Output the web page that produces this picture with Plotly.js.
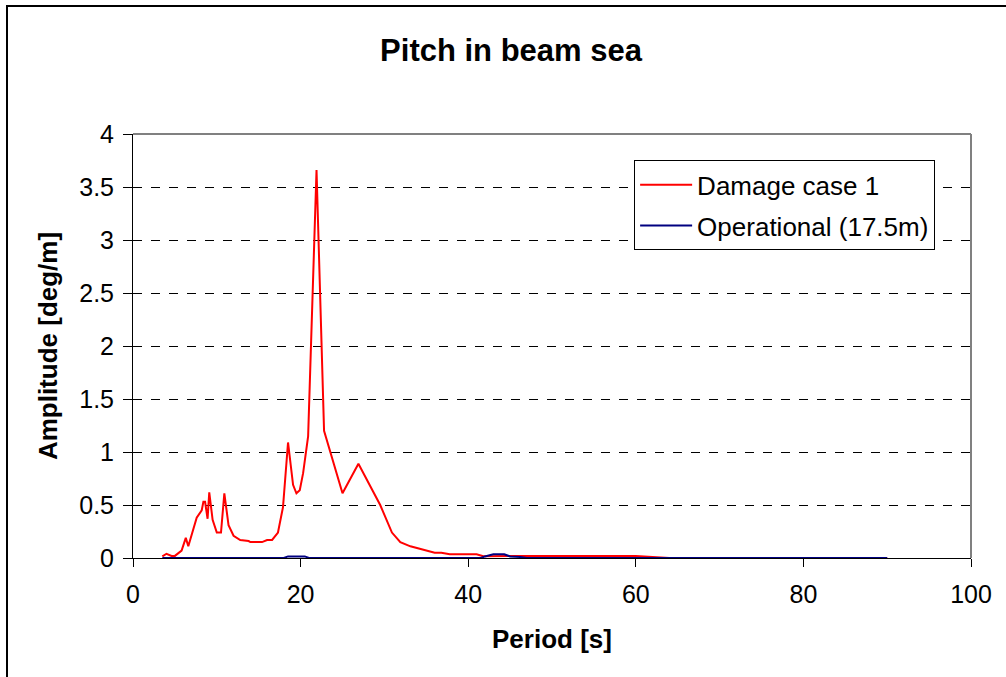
<!DOCTYPE html>
<html>
<head>
<meta charset="utf-8">
<script src="https://cdn.plot.ly/plotly-3.0.1.min.js"></script>
<style>
  html, body { margin: 0; padding: 0; background: #fff; overflow: hidden; }
  #wrap { position: relative; width: 1006px; height: 677px; }
  #chart { width: 1006px; height: 677px; }
  #frame { position: absolute; left: 6px; top: 5px; width: 1100px; height: 800px;
           border: 2px solid #000; pointer-events: none; }
</style>
</head>
<body>
<div id="wrap">
  <div id="chart"></div>
  <div id="frame"></div>
</div>
<script>
// Damage case 1
const damagePeriod = [3.5, 4.0, 4.6, 5.0, 5.8, 6.3, 6.6, 7.6, 8.2, 8.4, 8.6, 8.9, 9.1, 9.5, 10.0, 10.5, 10.9, 11.4, 12.0, 12.8, 13.8, 14.0, 15.4, 16.0, 16.6, 17.3, 17.9, 18.5, 19.1, 19.5, 19.9, 20.3, 20.9, 21.9, 22.8, 25.0, 26.9, 29.5, 30.9, 31.9, 33.1, 35.0, 36.0, 36.8, 37.8, 41.0, 41.8, 46.0, 60.0, 64.0, 90.0];
const damageAmp = [0.015, 0.04, 0.02, 0.02, 0.07, 0.19, 0.11, 0.38, 0.45, 0.53, 0.53, 0.37, 0.62, 0.36, 0.24, 0.24, 0.61, 0.31, 0.21, 0.17, 0.16, 0.15, 0.15, 0.17, 0.17, 0.24, 0.48, 1.09, 0.69, 0.61, 0.64, 0.80, 1.15, 3.66, 1.20, 0.61, 0.89, 0.50, 0.24, 0.15, 0.11, 0.07, 0.05, 0.05, 0.035, 0.035, 0.016, 0.02, 0.02, 0.0, 0.0];

// Operational (17.5m)
const operPeriod = [3.5, 18.0, 18.5, 20.5, 21.0, 41.5, 42.0, 43.0, 44.3, 45.0, 46.2, 47.0, 90.0];
const operAmp = [0, 0, 0.015, 0.015, 0, 0, 0.015, 0.035, 0.035, 0.015, 0.01, 0, 0];

const xTicks = [0, 20, 40, 60, 80, 100];
const yTicks = [0, 0.5, 1, 1.5, 2, 2.5, 3, 3.5, 4];
const yTickText = ["0", "0.5", "1", "1.5", "2", "2.5", "3", "3.5", "4"];

const FONT = "Liberation Sans, Arial, sans-serif";

const traces = [
  { x: damagePeriod, y: damageAmp, type: "scatter", mode: "lines", name: "Damage case 1",
    legendgroup: "a", line: { color: "#FF0000", width: 2 } },
  { x: operPeriod, y: operAmp, type: "scatter", mode: "lines", name: "Operational (17.5m)",
    legendgroup: "b", line: { color: "#000080", width: 2 } }
];

const layout = {
  width: 1006, height: 677,
  paper_bgcolor: "#fff", plot_bgcolor: "#fff",
  margin: { l: 133, r: 35, t: 134, b: 119, pad: 0 },
  font: { family: FONT, size: 25, color: "#000" },
  title: { text: "<b>Pitch in beam sea</b>", font: { family: FONT, size: 31, color: "#000" },
           x: 0.508, xref: "container", xanchor: "center", y: 0.926, yref: "container", yanchor: "middle" },
  showlegend: true,
  legend: { x: 0.598, y: 0.938, xanchor: "left", yanchor: "top", bgcolor: "#fff",
            bordercolor: "#000", borderwidth: 1, itemwidth: 52,
            traceorder: "grouped", tracegroupgap: 4,
            font: { family: FONT, size: 26, color: "#000" } },
  xaxis: {
    range: [0, 100], tickvals: xTicks, ticktext: xTicks.map(String),
    showgrid: false, zeroline: false, showline: true, linecolor: "#000", linewidth: 1,
    ticks: "outside", ticklen: 8, tickcolor: "#000", tickwidth: 1, ticklabelstandoff: 6,
    tickfont: { family: FONT, size: 25, color: "#000" },
    title: { text: "<b>Period [s]</b>", font: { family: FONT, size: 26, color: "#000" }, standoff: 22 },
    automargin: false
  },
  yaxis: {
    range: [0, 4], tickvals: yTicks, ticktext: yTickText,
    showgrid: true, gridcolor: "#000", griddash: "dash", gridwidth: 1,
    zeroline: false, showline: true, linecolor: "#000", linewidth: 1,
    ticks: "outside", ticklen: 9, tickcolor: "#000", tickwidth: 1, ticklabelstandoff: 4,
    tickfont: { family: FONT, size: 25, color: "#000" },
    title: { text: "<b>Amplitude [deg/m]</b>", font: { family: FONT, size: 26, color: "#000" }, standoff: 14 },
    automargin: false
  },
  shapes: [
    { type: "line", xref: "paper", yref: "paper", x0: 0, x1: 1, y0: 1, y1: 1,
      line: { color: "#808080", width: 2 } },
    { type: "line", xref: "paper", yref: "paper", x0: 1, x1: 1, y0: 0, y1: 1,
      line: { color: "#808080", width: 2 } }
  ]
};

Plotly.newPlot("chart", traces, layout, { displayModeBar: false, staticPlot: true });
</script>
</body>
</html>
